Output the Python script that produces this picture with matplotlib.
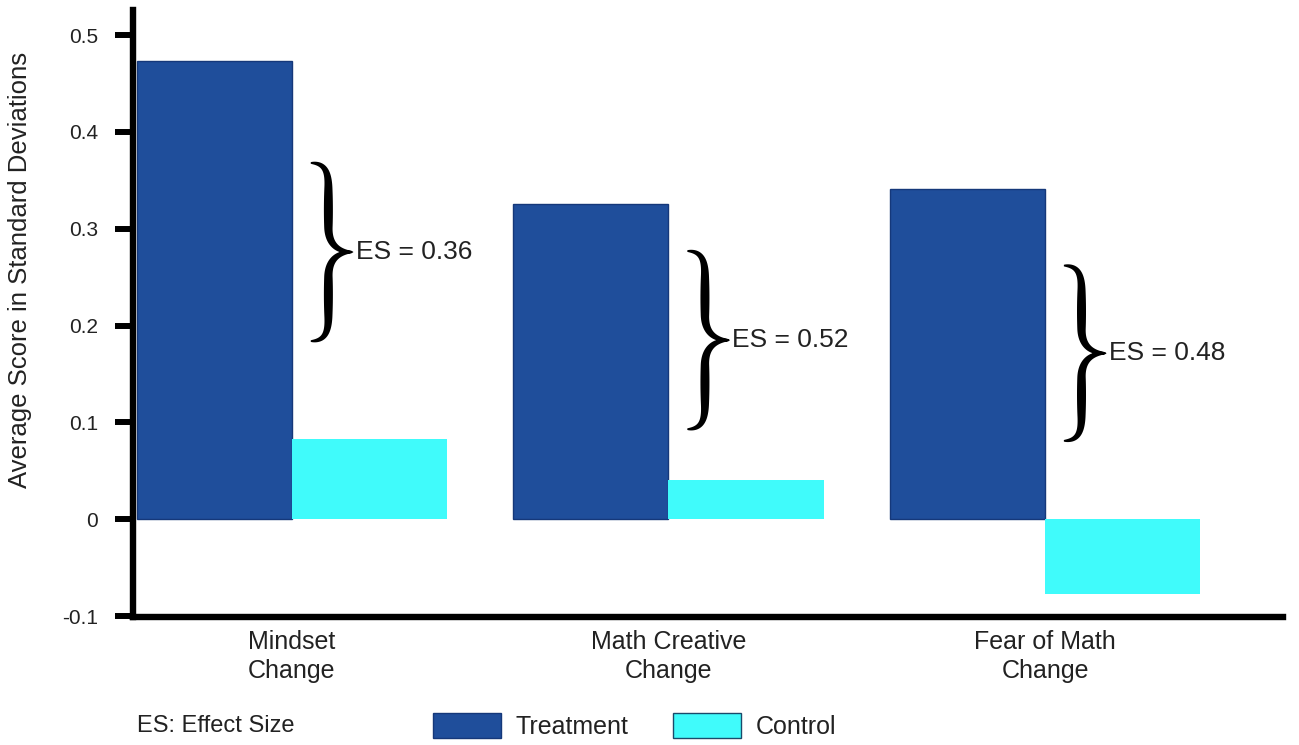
import numpy as np
import matplotlib
matplotlib.use("Agg")
import matplotlib.pyplot as plt
from matplotlib.patches import Patch, Polygon
from matplotlib.transforms import IdentityTransform

# ---------------- data ----------------
categories = ["Mindset\nChange", "Math Creative\nChange", "Fear of Math\nChange"]
treatment = [0.473, 0.326, 0.341]
control = [0.083, 0.041, -0.077]
es_labels = ["ES = 0.36", "ES = 0.52", "ES = 0.48"]
brace_top = [0.368, 0.277, 0.262]
brace_bottom = [0.184, 0.093, 0.081]
yticks = [-0.1, 0, 0.1, 0.2, 0.3, 0.4, 0.5]
ytick_labels = ["-0.1", "0", "0.1", "0.2", "0.3", "0.4", "0.5"]

TREAT_COLOR = "#1f4e9b"
CTRL_COLOR = "#40fbfb"
TEXT_COLOR = "#222222"

plt.rcParams["font.family"] = ["Liberation Sans", "DejaVu Sans"]

fig = plt.figure(figsize=(12.99, 7.45), dpi=100)
ax = fig.add_axes([0.1024, 0.1718, 0.8853, 0.8148])

x = np.arange(len(categories))
w = 0.412
ax.bar(x - w / 2, treatment, w, color=TREAT_COLOR, edgecolor="#15387a", linewidth=1)
ax.bar(x + w / 2, control, w, color=CTRL_COLOR, edgecolor="none")

ax.set_xlim(-0.422, 2.632)
ax.set_ylim(-0.101, 0.526)

for s in ["top", "right"]:
    ax.spines[s].set_visible(False)
for s in ["left", "bottom"]:
    ax.spines[s].set_linewidth(4.6)
    ax.spines[s].set_color("black")

ax.set_yticks(yticks, ytick_labels)
ax.tick_params(axis="y", length=13, width=4.3, pad=12, labelsize=15, labelcolor=TEXT_COLOR)
ax.set_xticks(x, categories)
ax.tick_params(axis="x", length=0, pad=9, labelsize=18, labelcolor=TEXT_COLOR)
for lab in ax.get_xticklabels():
    lab.set_linespacing(1.3)

ax.set_ylabel("Average Score in Standard Deviations", fontsize=18.5, color=TEXT_COLOR)
ax.yaxis.set_label_coords(-0.088, 0.572)


# ---------------- curly braces ----------------
def bezier(p0, p1, p2, p3, n=60):
    t = np.linspace(0, 1, n)[:, None]
    return (1 - t) ** 3 * p0 + 3 * (1 - t) ** 2 * t * p1 + 3 * (1 - t) * t ** 2 * p2 + t ** 3 * p3


def brace_polygon(x0, ytop, ybot, bw=42.0, thick=9.0):
    # everything in display pixels
    h = ytop - ybot
    half = h / 2
    xs = bw * 0.42
    q = h * 0.14
    P = np.array
    c1 = bezier(P([0.0, 0.0]), P([xs * 0.8, 0.0]), P([xs, q * 0.35]), P([xs, q]))
    stem = np.column_stack([np.full(30, xs), np.linspace(q, half - q, 30)])
    c2 = bezier(P([xs, half - q]), P([xs, half - q * 0.3]),
                P([xs + (bw - xs) * 0.4, half]), P([bw, half]))
    upper = np.vstack([c1, stem[1:], c2[1:]])
    lower = upper[::-1].copy()
    lower[:, 1] = h - lower[:, 1]
    pts = np.vstack([upper, lower[1:]])

    seg = np.hypot(*np.diff(upper, axis=0).T)
    s = np.concatenate([[0], np.cumsum(seg)]) / seg.sum()
    wu = 1.5 + (thick - 1.5) * np.sin(np.pi * s) ** 0.7
    wid = np.concatenate([wu, wu[::-1][1:]])

    tan = np.gradient(pts, axis=0)
    tan /= np.hypot(tan[:, 0], tan[:, 1])[:, None]
    nrm = np.column_stack([-tan[:, 1], tan[:, 0]])
    left = pts + nrm * wid[:, None] / 2
    right = pts - nrm * wid[:, None] / 2
    poly = np.vstack([left, right[::-1]])
    poly[:, 0] = x0 + poly[:, 0]
    poly[:, 1] = ytop - poly[:, 1]
    return poly


for i in range(len(categories)):
    px, ptop = ax.transData.transform((x[i] + 0.05, brace_top[i]))
    _, pbot = ax.transData.transform((x[i] + 0.05, brace_bottom[i]))
    poly = brace_polygon(px, ptop, pbot)
    fig.add_artist(Polygon(poly, closed=True, transform=IdentityTransform(),
                           facecolor="black", edgecolor="none"))
    mid = (brace_top[i] + brace_bottom[i]) / 2
    ax.text(x[i] + 0.17, mid, es_labels[i], ha="left", va="center",
            fontsize=19, color=TEXT_COLOR)

# ---------------- legend ----------------
fig.text(137 / 1299, 19 / 745, "ES: Effect Size", ha="left", va="center",
         fontsize=17, color=TEXT_COLOR)
handles = [Patch(facecolor=TREAT_COLOR, edgecolor="#15387a", linewidth=1),
           Patch(facecolor=CTRL_COLOR, edgecolor="#1a4a6a", linewidth=1)]
fig.legend(handles, ["Treatment", "Control"], ncol=2, loc="center left",
           bbox_to_anchor=(433 / 1299, 19 / 745), frameon=False, fontsize=18,
           handlelength=2.7, handleheight=1.12, handletextpad=0.6,
           columnspacing=1.8, borderpad=0, borderaxespad=0, labelcolor=TEXT_COLOR)

fig.savefig("out.png", dpi=100)
